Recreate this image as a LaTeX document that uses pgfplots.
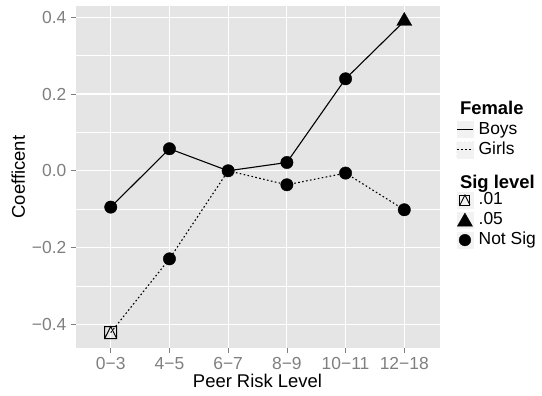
\documentclass[border=0pt]{standalone}
\usepackage{pgfplots}
\pgfplotsset{compat=1.18}
\usepackage{fontspec}
\setmainfont{Liberation Sans}
\definecolor{panelbg}{HTML}{E5E5E5}
\definecolor{keybg}{HTML}{F2F2F2}
\definecolor{tickgray}{HTML}{7F7F7F}
\pgfdeclareplotmark{sqtri}{%
  \pgfpathrectangle{\pgfpoint{-\pgfplotmarksize}{-\pgfplotmarksize}}{\pgfpoint{2\pgfplotmarksize}{2\pgfplotmarksize}}%
  \pgfpathmoveto{\pgfpoint{-\pgfplotmarksize}{-\pgfplotmarksize}}%
  \pgfpathlineto{\pgfpoint{0pt}{\pgfplotmarksize}}%
  \pgfpathlineto{\pgfpoint{\pgfplotmarksize}{-\pgfplotmarksize}}%
  \pgfusepathqstroke}
\begin{document}
\begin{tikzpicture}[x=1bp,y=1bp]
\useasboundingbox (0,0) rectangle (542,395);
\begin{axis}[
  at={(75.5bp,47bp)}, anchor=south west,
  scale only axis, width=364bp, height=342bp,
  xmin=-0.6, xmax=5.6, ymin=-0.4618, ymax=0.4294,
  axis background/.style={fill=panelbg},
  axis line style={draw=none},
  xtick={0,1,2,3,4,5},
  xticklabels={0−3,4−5,6−7,8−9,10−11,12−18},
  ytick={-0.4,-0.2,0,0.2,0.4},
  yticklabels={−0.4,−0.2,0.0,0.2,0.4},
  minor ytick={-0.3,-0.1,0.1,0.3},
  xmajorgrids, ymajorgrids, yminorgrids,
  major grid style={white, line width=1.1bp},
  minor grid style={white, line width=0.5bp},
  tick align=outside, xtick pos=bottom, ytick pos=left,
  major tick length=4.5bp, minor tick length=0pt,
  tick style={tickgray, line width=0.6bp},
  ticklabel style={font=\fontsize{17.5}{20}\selectfont, text=tickgray, inner sep=0pt},
  yticklabel style={xshift=-4.5bp},
  xticklabel style={yshift=-5bp, text depth=0pt},
  clip=false,
  legend style={at={(1.0444,0.6096)}, anchor=west, draw=none, fill=none,
    inner sep=0pt, outer sep=0pt, row sep=2bp,
    font=\fontsize{17.5}{20}\selectfont,
    nodes={inner sep=0pt, text height=12.5bp, text depth=3bp},
    /tikz/every odd column/.append style={column sep=4.5bp}},
  legend cell align=left,
  legend image code/.code={
    \fill[keybg, draw=white, line width=0.5bp] (0bp,-9bp) rectangle (18bp,9bp);
    \draw[#1] (1bp,0bp) -- (17bp,0bp);
  },
]
\addplot[black, line width=1.1bp, mark=none] coordinates {
  (0,-0.0947) (1,0.0574) (2,0) (3,0.0216) (4,0.2397) (5,0.39)};
\addlegendentry{Boys}
\addplot[black, line width=1.1bp, dash pattern=on 1.6bp off 2.4bp, mark=none] coordinates {
  (0,-0.4216) (1,-0.2295) (2,0) (3,-0.0365) (4,-0.006) (5,-0.1016)};
\addlegendentry{Girls}
% Not Sig
\addplot[only marks, mark=*, mark size=6.2bp, black, forget plot] coordinates {
  (0,-0.0947) (1,0.0574) (2,0) (3,0.0216) (4,0.2397)
  (1,-0.2295) (3,-0.0365) (4,-0.006) (5,-0.1016)};
% .05
\addplot[only marks, mark=triangle*, mark size=8.7bp, black, forget plot] coordinates {(5,0.39)};
% .01
\addplot[only marks, mark=sqtri, mark size=6bp, black, line width=1bp, forget plot] coordinates {(0,-0.4216)};
\end{axis}
\begin{axis}[
  at={(75.5bp,47bp)}, anchor=south west,
  scale only axis, width=364bp, height=342bp,
  xmin=0, xmax=1, ymin=0, ymax=1, hide axis,
  legend style={at={(1.0444,0.374)}, anchor=west, draw=none, fill=none,
    inner sep=0pt, outer sep=0pt, row sep=1.5bp,
    font=\fontsize{17.5}{20}\selectfont,
    nodes={inner sep=0pt, text height=12.5bp, text depth=3bp},
    /tikz/every odd column/.append style={column sep=4.5bp}},
  legend cell align=left,
]
\addlegendimage{legend image code/.code={
    \fill[keybg, draw=white, line width=0.5bp] (0bp,-9bp) rectangle (18bp,9bp);
    \draw[black, line width=0.9bp] (4bp,-5bp) rectangle (14bp,5bp);
    \draw[black, line width=0.9bp] (4bp,-5bp) -- (9bp,5bp) -- (14bp,-5bp);
  }}
\addlegendentry{.01}
\addlegendimage{legend image code/.code={
    \fill[keybg, draw=white, line width=0.5bp] (0bp,-9bp) rectangle (18bp,9bp);
    \fill[black] (1.5bp,-6bp) -- (16.5bp,-6bp) -- (9bp,7bp) -- cycle;
  }}
\addlegendentry{.05}
\addlegendimage{legend image code/.code={
    \fill[keybg, draw=white, line width=0.5bp] (0bp,-9bp) rectangle (18bp,9bp);
    \fill[black] (9bp,0bp) circle (5.8bp);
  }}
\addlegendentry{Not Sig}
\end{axis}
\node[anchor=base west, font=\bfseries\fontsize{18.5}{20}\selectfont] at (456.5,280.5) {Female};
\node[anchor=base west, font=\bfseries\fontsize{18.5}{20}\selectfont] at (456.5,206.5) {Sig level};
\node[anchor=base, font=\fontsize{18.5}{20}\selectfont] at (257.5,7.3) {Peer Risk Level};
\node[rotate=90, font=\fontsize{18.5}{20}\selectfont] at (18.3,218) {Coefficent};
\end{tikzpicture}
\end{document}
